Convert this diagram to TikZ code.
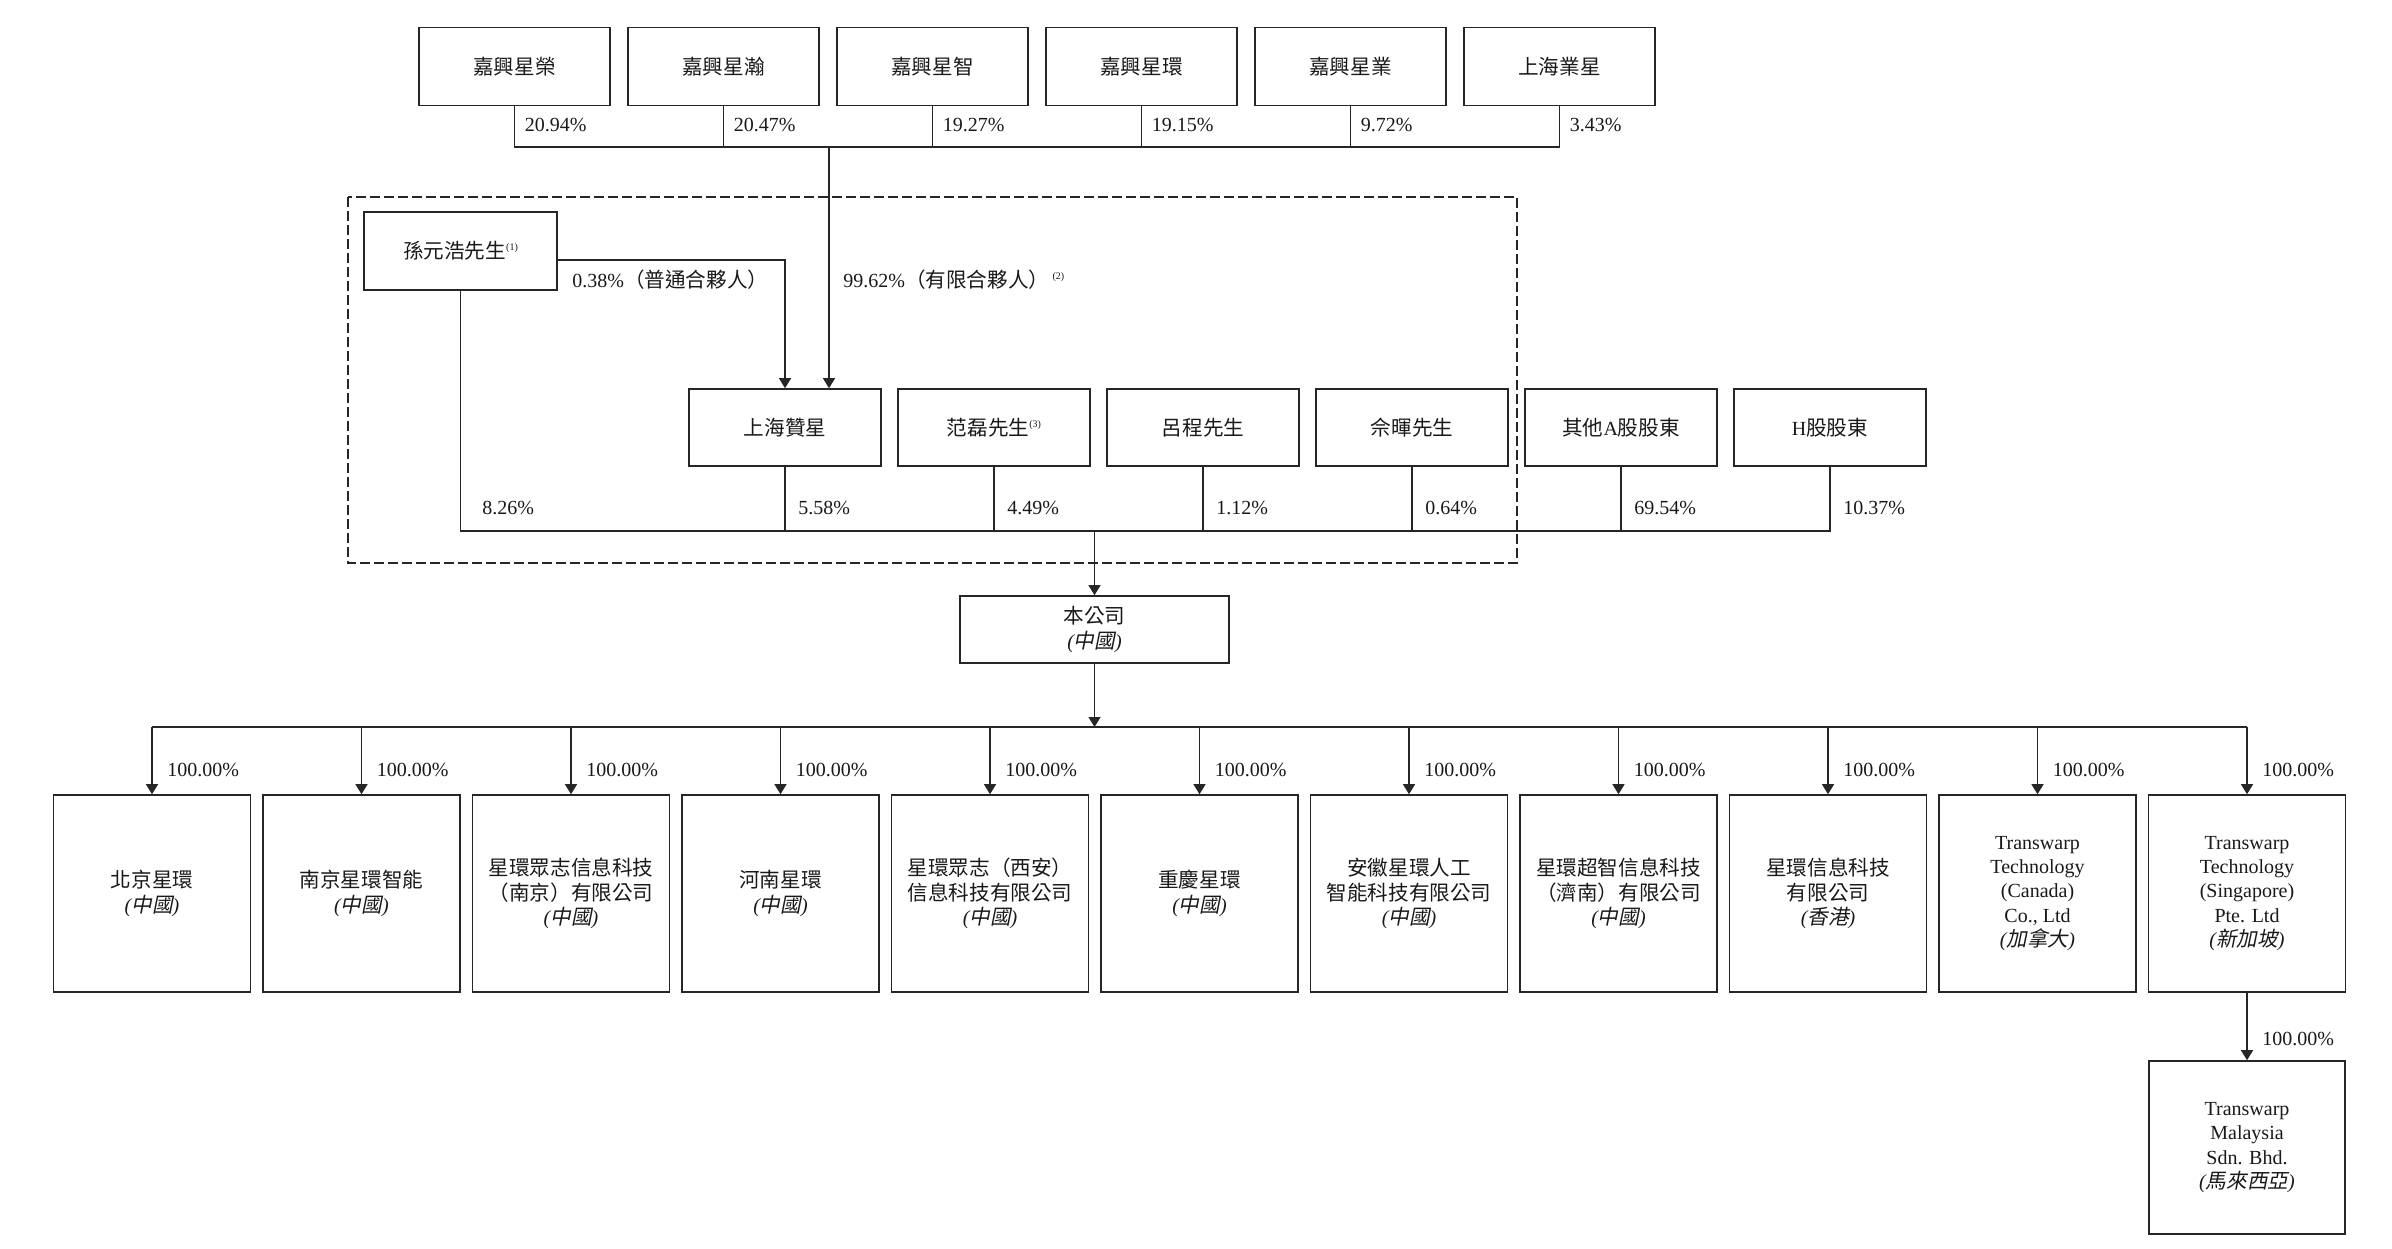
\documentclass[tikz,border=0pt]{standalone}
\usepackage{fontspec}
\setmainfont{Liberation Serif}
\newfontfamily\cjkfont[Scale=1.03]{Noto Sans CJK TC}
\newfontfamily\cjkitfont[Scale=1.03,FakeSlant=0.2]{Noto Sans CJK TC}
\newcommand\zhtxt[1]{{\cjkfont #1}}
\newcommand\loctxt[1]{{\itshape(}{\cjkitfont #1}{\itshape)}}
\newcommand\supnote[1]{\raisebox{0.9ex}{\fontsize{5}{5}\selectfont(#1)}}
\usetikzlibrary{arrows.meta}
\begin{document}
\begin{tikzpicture}[x=0.5pt,y=-0.5pt,
  every node/.style={font=\fontsize{10}{12.2}\selectfont, text=black!90, inner sep=0pt},
  boxA/.style={draw=black!85, line width=0.8pt, minimum width=95.5pt, minimum height=39pt, align=center},
  boxB/.style={boxA, minimum width=96pt, minimum height=38.5pt},
  boxC/.style={boxA, minimum width=98.5pt, minimum height=98.5pt},
  ln/.style={draw=black!85, line width=0.6pt},
  arr/.style={ln, -{Triangle[length=5pt,width=6pt]}},
  pct/.style={anchor=west}]
\useasboundingbox (0,0) rectangle (2392,1248);

% ---------- top row
\foreach \i/\nm/\pc in {1/嘉興星榮/20.94,2/嘉興星瀚/20.47,3/嘉興星智/19.27,4/嘉興星環/19.15,5/嘉興星業/9.72,6/上海業星/3.43}{
  \node[boxA] (t\i) at ({514.5+209*(\i-1)},66.5) {\zhtxt{\nm}};
  \node[pct] (tp\i) at ({524.5+209*(\i-1)},124.5) {\pc\%};
}
\draw[ln] (t1.south) |- (t6.south |- 0,147) -- (t6.south);
\foreach \i in {2,...,5} \draw[ln] (t\i.south) -- (t\i.south |- 0,147);
\coordinate (topbus) at (829,147);

% ---------- dashed group
\draw[ln, dash pattern=on 5pt off 2pt] (348,197) rectangle (1517,563);

% ---------- Sun
\node[boxA, minimum width=96.5pt] (sun) at (460.5,251) {\zhtxt{孫元浩先生}\supnote{1}};

% ---------- second row
\node[boxB] (s1) at (785,427.5) {\zhtxt{上海贊星}};
\node[boxB] (s2) at (994,427.5) {\zhtxt{范磊先生}\supnote{3}};
\node[boxB] (s3) at (1203,427.5) {\zhtxt{呂程先生}};
\node[boxB] (s4) at (1412,427.5) {\zhtxt{佘暉先生}};
\node[boxB] (s5) at (1621,427.5) {\zhtxt{其他}A\zhtxt{股股東}};
\node[boxB] (s6) at (1830,427.5) {H\zhtxt{股股東}};

\draw[arr] ([yshift=-4.5pt]sun.east) -| (s1.north);
\draw[arr] (topbus) -- (topbus |- s1.north);
\node[pct] (l038) at (572,280) {0.38\%\zhtxt{（普通合夥人）}};
\node[pct] (l9962) at (843,280) {99.62\%\zhtxt{（有限合夥人）}\,\supnote{2}};

\coordinate (midbus) at (1094.5,531);
\draw[ln] (sun.south) |- (midbus) -| (s6.south);
\foreach \i in {1,...,5} \draw[ln] (s\i.south) -- (s\i.south |- midbus);
\node[pct] (sp0) at (482,508) {8.26\%};
\foreach \i/\pc in {1/5.58,2/4.49,3/1.12,4/0.64,5/69.54,6/10.37}{
  \node[pct] (sp\i) at ({798+209*(\i-1)},508) {\pc\%};
}

% ---------- company
\node[boxA, minimum width=134.5pt, minimum height=33.5pt] (co) at (1094.5,629.5) {\zhtxt{本公司}\\\loctxt{中國}};
\draw[arr] (midbus) -- (co.north);

% ---------- subsidiaries
\coordinate (botbus) at (1094.5,727);
\draw[arr] (co.south) -- (botbus);

\node[boxC] (b1) at (152,893.5) {\zhtxt{北京星環}\\\loctxt{中國}};
\node[boxC] (b2) at (361.5,893.5) {\zhtxt{南京星環智能}\\\loctxt{中國}};
\node[boxC] (b3) at (571,893.5) {\zhtxt{星環眾志信息科技}\\\zhtxt{（南京）有限公司}\\\loctxt{中國}};
\node[boxC] (b4) at (780.5,893.5) {\zhtxt{河南星環}\\\loctxt{中國}};
\node[boxC] (b5) at (990,893.5) {\zhtxt{星環眾志（西安）}\\\zhtxt{信息科技有限公司}\\\loctxt{中國}};
\node[boxC] (b6) at (1199.5,893.5) {\zhtxt{重慶星環}\\\loctxt{中國}};
\node[boxC] (b7) at (1409,893.5) {\zhtxt{安徽星環人工}\\\zhtxt{智能科技有限公司}\\\loctxt{中國}};
\node[boxC] (b8) at (1618.5,893.5) {\zhtxt{星環超智信息科技}\\\zhtxt{（濟南）有限公司}\\\loctxt{中國}};
\node[boxC] (b9) at (1828,893.5) {\zhtxt{星環信息科技}\\\zhtxt{有限公司}\\\loctxt{香港}};
\node[boxC] (b10) at (2037.5,893.5) {Transwarp\\Technology\\(Canada)\\Co., Ltd\\\loctxt{加拿大}};
\node[boxC] (b11) at (2247,893.5) {Transwarp\\Technology\\(Singapore)\\Pte. Ltd\\\loctxt{新加坡}};

\draw[ln] (b1.north |- botbus) -- (b11.north |- botbus);
\foreach \i in {1,...,11}{
  \draw[arr] (b\i.north |- botbus) -- (b\i.north);
  \node[pct] (bp\i) at ({167+209.5*(\i-1)},770) {100.00\%};
}

\node[boxA, minimum width=98pt, minimum height=86.5pt] (my) at (2247,1147.5) {Transwarp\\Malaysia\\Sdn. Bhd.\\\loctxt{馬來西亞}};
\draw[arr] (b11.south) -- (my.north);
\node[pct] (myp) at (2262,1039) {100.00\%};
\end{tikzpicture}
\end{document}
